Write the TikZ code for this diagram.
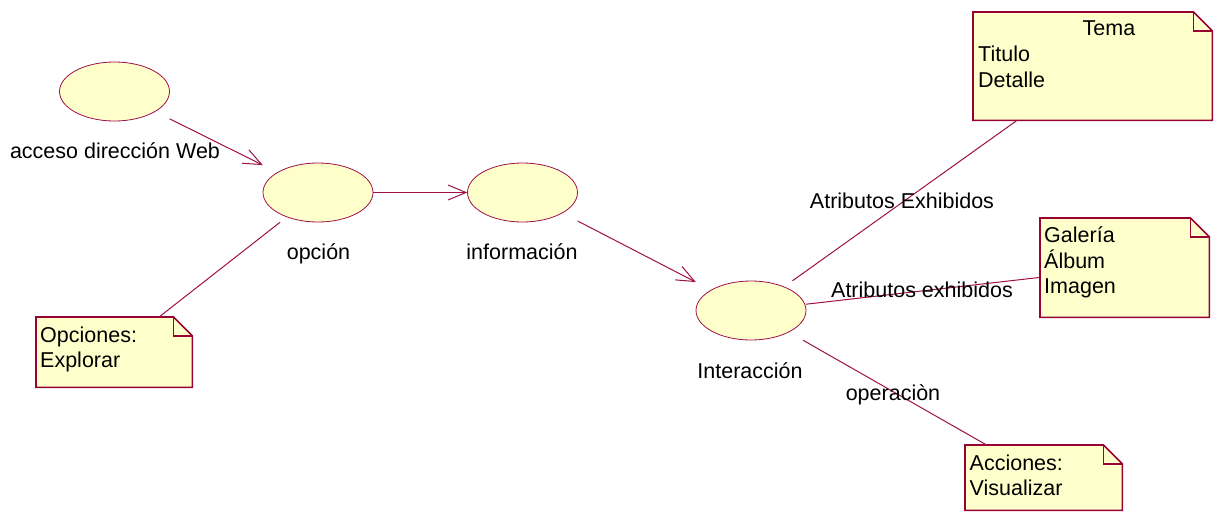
\documentclass[tikz,border=0pt]{standalone}
\usepackage{fontspec}
\setmainfont{Liberation Sans}
\usetikzlibrary{arrows.meta,calc}
\definecolor{umlline}{RGB}{160,16,72}
\definecolor{umlborder}{RGB}{153,0,51}
\definecolor{umlfill}{RGB}{255,255,204}
\tikzset{
  ucbox/.style={rectangle, draw=none, inner sep=0pt, minimum width=110pt, minimum height=59pt},
  ucshape/.style={fill=umlfill, draw=umlline, line width=0.8pt},
  notebox/.style={rectangle, draw=none, inner sep=0pt, anchor=north west},
  noteshape/.style={fill=umlfill, draw=umlborder, line width=1.6pt, line join=miter},
  link/.style={draw=umlline, line width=1pt},
  flow/.style={link, -{Straight Barb[length=18pt,width=15pt,line width=1pt]}},
  txt/.style={inner sep=0pt, font=\fontsize{21.5}{26}\selectfont, text=black},
}
% note with a folded top-right corner, drawn over an invisible box node
\newcommand\foldednote[1]{%
  \path[noteshape] (#1.north west) -- ($(#1.north east)+(-19pt,0pt)$)
    -- ($(#1.north east)+(0pt,-19pt)$) -- (#1.south east) -- (#1.south west) -- cycle;
  \draw[umlborder, line width=1.6pt] ($(#1.north east)+(-19pt,0pt)$) |- ($(#1.north east)+(0pt,-19pt)$);
}
\begin{document}
\begin{tikzpicture}[x=1pt, y=-1pt]
  \useasboundingbox (0,0) rectangle (1219,512);

  % use cases
  \node[ucbox] (acc) at (114.5,91.5) {};
  \node[ucbox] (opc) at (318,192.5) {};
  \node[ucbox] (inf) at (522.5,192.5) {};
  \node[ucbox] (int) at (751,310.5) {};
  \foreach \n in {acc,opc,inf,int}
    {\draw[ucshape] (\n.center) ellipse [x radius=55pt, y radius=29.5pt];}

  % notes
  \node[notebox, minimum width=239pt, minimum height=108pt] (tema) at (973,12) {};
  \node[notebox, minimum width=169pt, minimum height=99pt] (galeria) at (1040,218) {};
  \node[notebox, minimum width=157pt, minimum height=65pt] (acciones) at (965,445) {};
  \node[notebox, minimum width=156pt, minimum height=70pt] (opciones) at (36,317) {};
  \foreach \n in {tema,galeria,acciones,opciones}
    {\foldednote{\n}}

  % connectors
  \draw[flow] (acc) -- (opc);
  \draw[flow] (opc) -- (inf);
  \draw[flow] (inf) -- (int);
  \draw[link] (opc) -- (opciones);
  \draw[link] (int) -- (tema);
  \draw[link] (int) -- (galeria);
  \draw[link] (int) -- (acciones);

  % use case names
  \node[txt, anchor=base] (accL) at (115,158) {acceso dirección Web};
  \node[txt, anchor=base] (opcL) at (318.5,259) {opción};
  \node[txt, anchor=base] (infL) at (522,259) {información};
  \node[txt, anchor=base] (intL) at (750,378) {Interacción};

  % connector labels
  \node[txt, anchor=base] (temaL) at (902,208) {Atributos Exhibidos};
  \node[txt, anchor=base] (galL) at (922,297) {Atributos exhibidos};
  \node[txt, anchor=base] (accionL) at (893,400) {operaciòn};

  % note texts
  \node[txt, anchor=base] (temaT) at (1109,35) {Tema};
  \node[txt, anchor=base west] (temaA) at (978,61) {Titulo};
  \node[txt, anchor=base west] (temaB) at (978,87) {Detalle};
  \node[txt, anchor=base west] (galA) at (1044,242) {Galería};
  \node[txt, anchor=base west] (galB) at (1044,268) {Álbum};
  \node[txt, anchor=base west] (galC) at (1044,293) {Imagen};
  \node[txt, anchor=base west] (accA) at (969.5,470) {Acciones:};
  \node[txt, anchor=base west] (accB) at (969.5,495) {Visualizar};
  \node[txt, anchor=base west] (opcA) at (40,342) {Opciones:};
  \node[txt, anchor=base west] (opcB) at (40,367) {Explorar};
\end{tikzpicture}
\end{document}
